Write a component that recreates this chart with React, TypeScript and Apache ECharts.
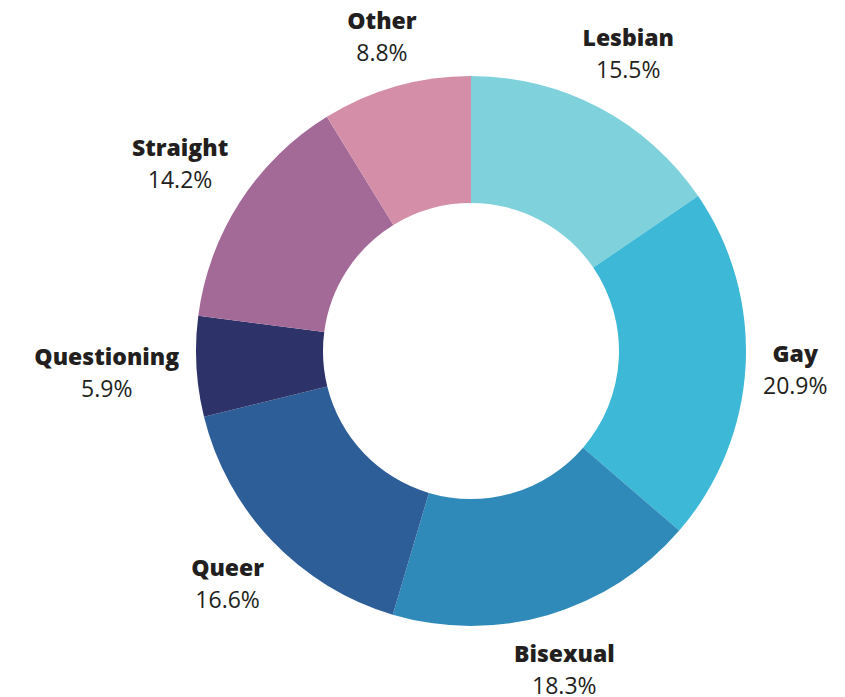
import React, { useEffect, useRef } from "react";
import * as echarts from "echarts";

const categories = ["Lesbian", "Gay", "Bisexual", "Queer", "Questioning", "Straight", "Other"];
const values = [15.5, 20.9, 18.3, 16.6, 5.9, 14.2, 8.8];
const colors = ["#7fd2db", "#3eb8d7", "#2f8ab9", "#2d5e98", "#2d3269", "#a36a97", "#d48ea8"];

const CX = 471;
const CY = 351;
const R_OUT = 275;
const R_IN = 148;
const GAP = 16;

export default function App() {
  const ref = useRef<HTMLDivElement>(null);
  useEffect(() => {
    if (!ref.current) return;
    const chart = echarts.init(ref.current, undefined, { renderer: "svg" });
    const total = values.reduce((a, b) => a + b, 0);
    const mids: number[] = [];
    let acc = 0;
    values.forEach((v) => {
      mids.push(((acc + v / 2) / total) * 2 * Math.PI);
      acc += v;
    });
    chart.setOption({
      animation: false,
      backgroundColor: "#ffffff",
      series: [
        {
          type: "pie",
          center: [CX, CY],
          radius: [R_IN, R_OUT],
          startAngle: 90,
          clockwise: true,
          avoidLabelOverlap: false,
          itemStyle: { borderWidth: 0 },
          emphasis: { disabled: true },
          labelLine: { show: false },
          label: {
            show: true,
            position: "outside",
            formatter: (p: any) => `{n|${p.name}}\n{p|${Number(p.value).toFixed(1)}%}`,
            rich: {
              n: {
                fontFamily: "Open Sans",
                fontWeight: 800,
                fontSize: 23,
                color: "#231f20",
                lineHeight: 32,
                align: "center",
              },
              p: {
                fontFamily: "Open Sans",
                fontWeight: 400,
                fontSize: 23,
                color: "#231f20",
                lineHeight: 32,
                align: "center",
              },
            },
          },
          labelLayout: (params: any) => {
            const a = mids[params.dataIndex];
            const ux = Math.sin(a);
            const uy = -Math.cos(a);
            const w = params.labelRect.width;
            const h = params.labelRect.height;
            const d = R_OUT + GAP + Math.abs(ux) * (w / 2) + Math.abs(uy) * (h / 2);
            return {
              x: CX + d * ux,
              y: CY + d * uy,
              align: "center",
              verticalAlign: "middle",
            };
          },
          data: categories.map((name, i) => ({
            name,
            value: values[i],
            itemStyle: { color: colors[i] },
          })),
        },
      ],
    });
    return () => chart.dispose();
  }, []);
  return (
    <div
      ref={ref}
      style={{ position: "fixed", left: 0, top: 0, width: 845, height: 697 }}
    />
  );
}
